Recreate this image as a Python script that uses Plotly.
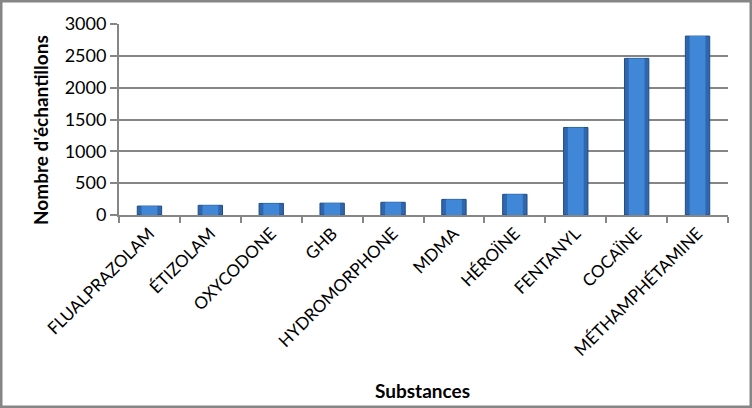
import plotly.graph_objects as go

categories = ["FLUALPRAZOLAM", "ÉTIZOLAM", "OXYCODONE", "GHB", "HYDROMORPHONE",
              "MDMA", "HÉROÏNE", "FENTANYL", "COCAÏNE", "MÉTHAMPHÉTAMINE"]
values = [140, 152, 182, 186, 200, 245, 325, 1375, 2460, 2810]
y_ticks = [0, 500, 1000, 1500, 2000, 2500, 3000]

FONT = "Lato, Carlito, Calibri, 'Open Sans', sans-serif"

L, R, T, B = 119, 24, 24, 193
W, H = 752, 408
PW, PH = W - L - R, H - T - B

fig = go.Figure()
# outer (darker edges) bar
fig.add_trace(go.Bar(
    x=categories, y=values, width=0.4, hoverinfo="skip",
    marker=dict(color="#2F66AD", line=dict(color="#1F4C85", width=1)),
))
# inner lighter highlight
fig.add_trace(go.Bar(
    x=categories, y=values, width=0.26,
    marker=dict(color="#4187D8", line=dict(width=0)),
))

fig.update_layout(
    width=W, height=H, barmode="overlay",
    margin=dict(l=L, r=R, t=T, b=B, autoexpand=False),
    paper_bgcolor="white", plot_bgcolor="white",
    showlegend=False,
    font=dict(family=FONT, size=17, color="black"),
    shapes=[dict(type="rect", xref="paper", yref="paper",
                 x0=-(L - 1) / PW, x1=1 + (R - 1) / PW,
                 y0=-(B - 1) / PH, y1=1 + (T - 1) / PH,
                 line=dict(color="#868686", width=3))],
    annotations=[
        dict(text="<b>Nombre d'échantillons</b>", xref="paper", yref="paper",
             x=(40 - L) / PW, y=(T + PH - 130) / PH, textangle=-90,
             showarrow=False, font=dict(size=19), xanchor="center", yanchor="middle"),
        dict(text="<b>Substances</b>", xref="paper", yref="paper",
             x=(422 - L) / PW, y=(T + PH - 390) / PH,
             showarrow=False, font=dict(size=19), xanchor="center", yanchor="middle"),
    ],
)
fig.update_xaxes(
    tickangle=-45, tickfont=dict(size=17), automargin=False,
    showline=True, linecolor="#868686", linewidth=2,
    ticks="outside", tickson="boundaries", ticklen=6, tickcolor="#868686", tickwidth=2,
)
fig.update_yaxes(
    range=[0, 3000], tickvals=y_ticks, tickfont=dict(size=18), automargin=False,
    showgrid=True, gridcolor="#868686", gridwidth=2,
    showline=True, linecolor="#868686", linewidth=2,
    ticks="outside", ticklen=7, tickcolor="#868686", tickwidth=2,
    zeroline=False,
)

fig.write_html("out.html", config={"displayModeBar": False},
               post_script="document.body.style.margin='0';document.body.style.overflow='hidden';")
